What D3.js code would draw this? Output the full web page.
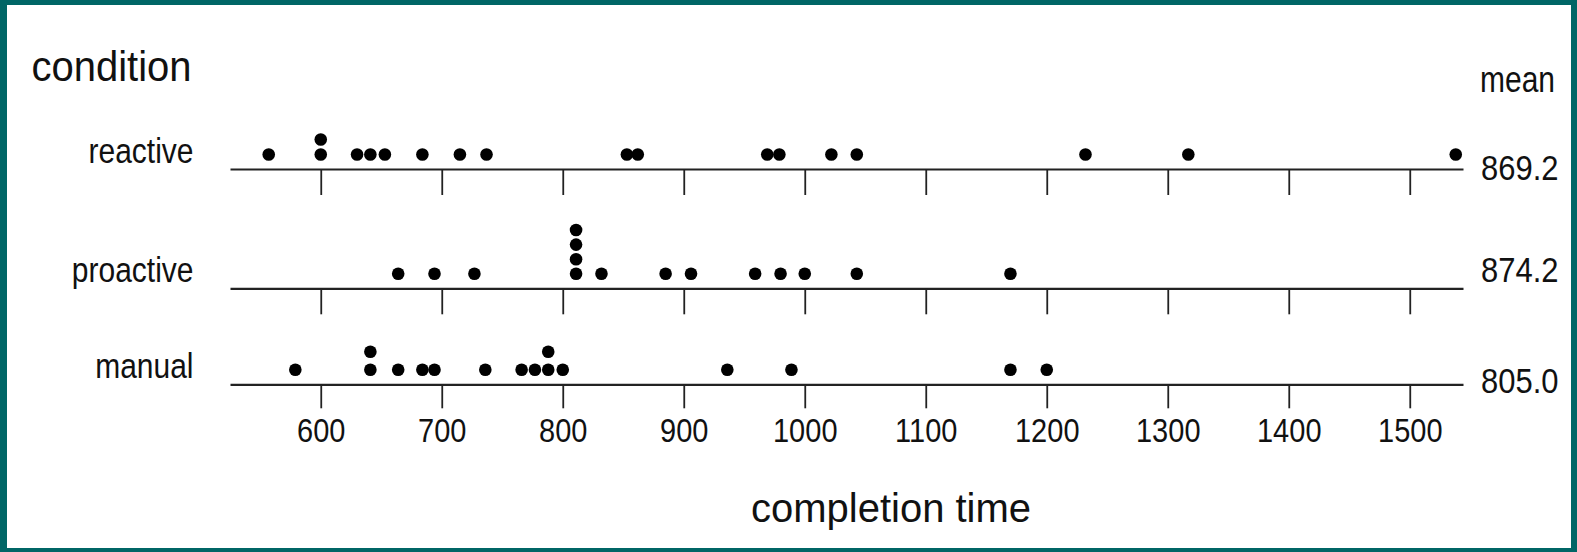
<!DOCTYPE html>
<html>
<head>
<meta charset="utf-8">
<script src="https://cdn.jsdelivr.net/npm/d3@7"></script>
<style>
  body { margin: 0; background: #006666; }
  text { font-family: "Liberation Sans", Arial, sans-serif; fill: #111; }
</style>
</head>
<body>
<script>
// data
const conditions = ["reactive", "proactive", "manual"];
const reactiveTimes = [557, 600, 600, 630, 641, 653, 684, 715, 737, 853, 862, 969, 979, 1022, 1043, 1232, 1317, 1538];
const proactiveTimes = [664, 694, 727, 811, 811, 811, 811, 832, 885, 906, 959, 980, 1000, 1043, 1170];
const manualTimes = [579, 641, 641, 664, 684, 694, 736, 766, 777, 788, 788, 800, 936, 989, 1170, 1200];
const means = [869.2, 874.2, 805.0];
const tickValues = [600, 700, 800, 900, 1000, 1100, 1200, 1300, 1400, 1500];

const series = [reactiveTimes, proactiveTimes, manualTimes];

const W = 1577, H = 552;

const svg = d3.select("body").append("svg")
  .attr("width", W)
  .attr("height", H);

svg.append("rect")
  .attr("width", W).attr("height", H)
  .attr("fill", "#006666");
svg.append("rect")
  .attr("x", 7).attr("y", 5)
  .attr("width", W - 13).attr("height", H - 9)
  .attr("fill", "#fff");

let x = d3.scaleLinear()
  .domain([525, 1544])
  .range([230, 1463]);

// baseline of each row
let y = d3.scaleOrdinal()
  .domain(conditions)
  .range([169, 288.3, 384.3]);

// little helper, the old plot has tall narrow type
function label(g, px, py, s, size, anchor, sy) {
  return g.append("text")
    .attr("transform", `translate(${px},${py}) scale(1,${sy})`)
    .attr("text-anchor", anchor)
    .style("font-size", size + "px")
    .text(s);
}

const stackStep = { reactive: 15, proactive: 14.6, manual: 18 };
const meanDy = [11, -6, 8.4];

conditions.forEach((c, i) => {
  const last = i == conditions.length - 1;

  let axis = d3.axisBottom(x)
    .tickValues(tickValues)
    .tickSize(last ? 24 : 26)
    .tickSizeOuter(0)
    .tickFormat(last ? d3.format("d") : "");

  let g = svg.append("g")
    .attr("transform", `translate(0,${y(c)})`)
    .call(axis);

  g.select(".domain").attr("stroke", "#222").attr("stroke-width", 2.2);
  g.selectAll(".tick line").attr("stroke", "#222").attr("stroke-width", 1.8);

  if (last) {
    g.selectAll(".tick text")
      .attr("fill", "#111")
      .style("font-family", '"Liberation Sans", Arial, sans-serif')
      .style("font-size", "29px")
      .attr("y", 58 / 1.15)
      .attr("dy", 0)
      .attr("transform", "scale(1,1.15)");
  }

  // stack equal values
  let seen = {};
  let pts = series[i].map(v => {
    seen[v] = (seen[v] || 0) + 1;
    return { v: v, k: seen[v] - 1 };
  });

  svg.selectAll(null)
    .data(pts)
    .enter()
    .append("circle")
    .attr("cx", d => x(d.v))
    .attr("cy", d => y(c) - 14.5 - d.k * stackStep[c])
    .attr("r", 6.3)
    .attr("fill", "#000");

  label(svg, 193.5, y(c) - 6.5, c, 30, "end", 1.15);
  label(svg, 1481, y(c) + meanDy[i], d3.format(".1f")(means[i]), 31, "start", 1.15);
});

label(svg, 31.5, 80.7, "condition", 40, "start", 1.08);
label(svg, 1480, 91.7, "mean", 30, "start", 1.2);
label(svg, 891, 521.6, "completion time", 40, "middle", 1.0);
</script>
</body>
</html>
